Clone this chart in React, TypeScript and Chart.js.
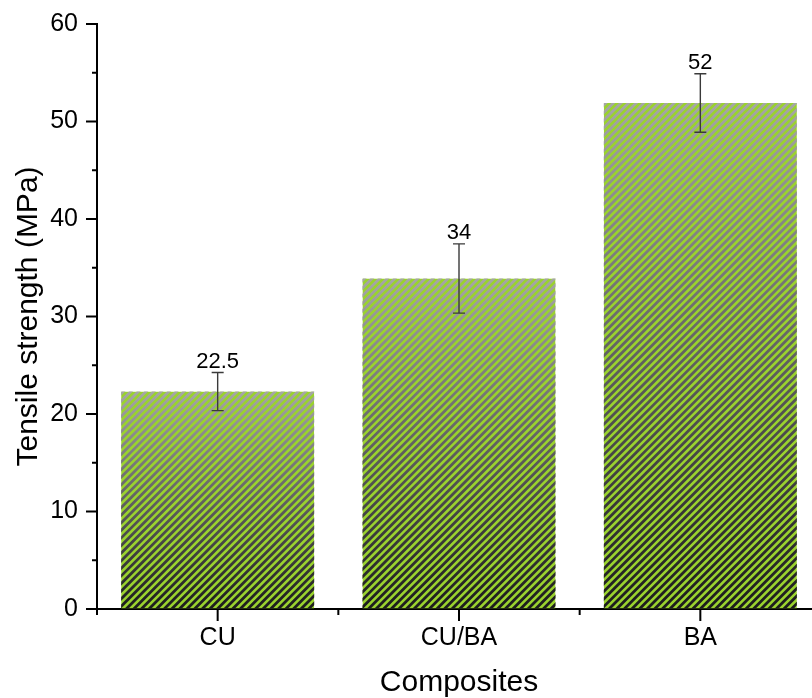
import React, { useEffect, useRef } from "react";
import { Chart, registerables } from "chart.js";

Chart.register(...registerables);

const categories = ["CU", "CU/BA", "BA"];
const strength = [22.3, 33.9, 51.9];
const errors = [1.95, 3.55, 3.0];
const valueLabels = ["22.5", "34", "52"];
const yMajorTicks = [0, 10, 20, 30, 40, 50, 60];
const yMinorTicks = [5, 15, 25, 35, 45, 55];

const FONT = "'Liberation Sans', Arial, sans-serif";

const stripePlugin = {
  id: "stripes",
  afterDatasetsDraw(chart: any) {
    const { ctx } = chart;
    const meta = chart.getDatasetMeta(0);
    meta.data.forEach((bar: any) => {
      const { x, y, base, width } = bar.getProps(["x", "y", "base", "width"], true);
      const left = x - width / 2;
      const top = Math.min(y, base);
      const h = Math.abs(base - y);
      ctx.save();
      ctx.beginPath();
      ctx.rect(left, top, width, h);
      ctx.clip();
      ctx.fillStyle = "#9ad22e";
      ctx.fillRect(left, top, width, h);
      const grad = ctx.createLinearGradient(0, top, 0, top + h);
      grad.addColorStop(0, "#a6a6a6");
      grad.addColorStop(1, "#1c1c1c");
      ctx.strokeStyle = grad;
      ctx.lineWidth = 2.8;
      const period = 7.6;
      ctx.beginPath();
      for (let k = -h - period; k < width + period; k += period) {
        ctx.moveTo(left + k, top + h + 2);
        ctx.lineTo(left + k + h + 4, top - 2);
      }
      ctx.stroke();
      ctx.restore();
    });
  },
};

const errorPlugin = {
  id: "errorbars",
  afterDatasetsDraw(chart: any) {
    const { ctx, scales } = chart;
    const xs = scales.x;
    const ys = scales.y;
    ctx.save();
    ctx.strokeStyle = "#3a3a3a";
    ctx.lineWidth = 1.4;
    strength.forEach((v, i) => {
      const px = xs.getPixelForValue(i);
      const hi = ys.getPixelForValue(v + errors[i]);
      const lo = ys.getPixelForValue(v - errors[i]);
      ctx.beginPath();
      ctx.moveTo(px, hi);
      ctx.lineTo(px, lo);
      ctx.moveTo(px - 6, hi);
      ctx.lineTo(px + 6, hi);
      ctx.moveTo(px - 6, lo);
      ctx.lineTo(px + 6, lo);
      ctx.stroke();
      ctx.fillStyle = "#000";
      ctx.font = `22px ${FONT}`;
      ctx.textAlign = "center";
      ctx.textBaseline = "alphabetic";
      ctx.fillText(valueLabels[i], px, hi - 5);
    });
    ctx.restore();
  },
};

const tickPlugin = {
  id: "customTicks",
  afterDraw(chart: any) {
    const { ctx, scales, chartArea } = chart;
    const xs = scales.x;
    const ys = scales.y;
    ctx.save();
    ctx.strokeStyle = "#000";
    ctx.lineWidth = 2;
    ctx.beginPath();
    yMajorTicks.forEach((v) => {
      const py = ys.getPixelForValue(v);
      ctx.moveTo(chartArea.left - 11, py);
      ctx.lineTo(chartArea.left, py);
    });
    yMinorTicks.forEach((v) => {
      const py = ys.getPixelForValue(v);
      ctx.moveTo(chartArea.left - 5, py);
      ctx.lineTo(chartArea.left, py);
    });
    categories.forEach((_, i) => {
      const px = xs.getPixelForValue(i);
      ctx.moveTo(px, chartArea.bottom);
      ctx.lineTo(px, chartArea.bottom + 12);
    });
    for (let i = 0; i <= categories.length; i++) {
      const px = xs.getPixelForValue(i - 0.5);
      ctx.moveTo(px, chartArea.bottom);
      ctx.lineTo(px, chartArea.bottom + 6);
    }
    ctx.stroke();
    ctx.restore();
  },
};

export default function App() {
  const ref = useRef<HTMLCanvasElement>(null);
  useEffect(() => {
    if (!ref.current) return;
    const chart = new Chart(ref.current, {
      type: "bar",
      data: {
        labels: categories,
        datasets: [
          {
            data: strength,
            backgroundColor: "rgba(0,0,0,0)",
            borderWidth: 0,
            barPercentage: 0.8,
            categoryPercentage: 1,
          },
        ],
      },
      options: {
        responsive: false,
        animation: false,
        devicePixelRatio: 1,
        layout: { padding: { left: 11, top: 24, right: 1, bottom: 0 } },
        plugins: { legend: { display: false }, tooltip: { enabled: false } },
        scales: {
          x: {
            type: "category",
            offset: true,
            afterFit: (scale: any) => {
              scale.height = 89;
            },
            grid: {
              drawOnChartArea: false,
              drawTicks: true,
              tickLength: 12,
              tickColor: "rgba(0,0,0,0)",
            },
            border: { display: true, color: "#000", width: 2 },
            ticks: { color: "#000", font: { family: FONT, size: 25 }, padding: 2.5 },
            title: {
              display: true,
              text: "Composites",
              color: "#000",
              font: { family: FONT, size: 30, lineHeight: 1 },
              padding: { top: 14, bottom: 0 },
            },
          },
          y: {
            min: 0,
            max: 60,
            afterFit: (scale: any) => {
              scale.width = 86;
            },
            grid: {
              drawOnChartArea: false,
              drawTicks: true,
              tickLength: 11,
              tickColor: "rgba(0,0,0,0)",
            },
            border: { display: true, color: "#000", width: 2 },
            ticks: {
              stepSize: 10,
              color: "#000",
              font: { family: FONT, size: 25 },
              padding: 8,
            },
            title: {
              display: true,
              text: "Tensile strength (MPa)",
              color: "#000",
              font: { family: FONT, size: 30 },
              padding: { top: 0, bottom: 4 },
            },
          },
        },
      },
      plugins: [stripePlugin, errorPlugin, tickPlugin],
    });
    return () => chart.destroy();
  }, []);
  return (
    <div style={{ position: "fixed", left: 0, top: 0, width: 822, height: 698, background: "#fff" }}>
      <canvas ref={ref} width={822} height={698} style={{ width: 822, height: 698 }} />
    </div>
  );
}
